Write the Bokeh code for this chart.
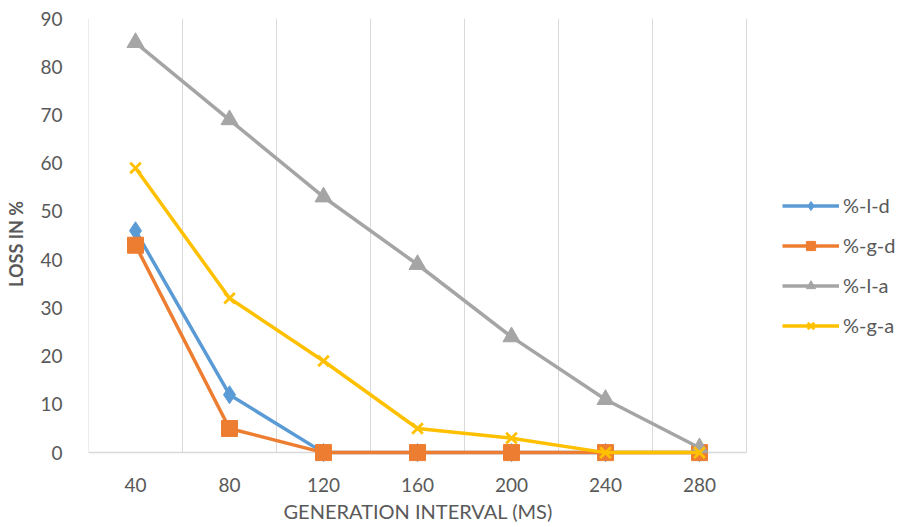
from bokeh.plotting import figure
from bokeh.models import FixedTicker, Legend, Range1d, Title
from bokeh.embed import file_html
from bokeh.resources import INLINE

intervals = [40, 80, 120, 160, 200, 240, 280]
l_d = [46, 12, 0, 0, 0, 0, 0]
g_d = [43, 5, 0, 0, 0, 0, 0]
l_a = [85, 69, 53, 39, 24, 11, 1]
g_a = [59, 32, 19, 5, 3, 0, 0]
y_ticks = [0, 10, 20, 30, 40, 50, 60, 70, 80, 90]

FONT = "Lato"
TXT = "#595959"

# frame extends to the right edge so the legend can sit inside it
x_end = 300 + 155 * 280 / 658
p = figure(width=901, height=527, output_backend="svg", toolbar_location=None,
           x_range=Range1d(20, x_end), y_range=Range1d(-3.5, 90),
           min_border_left=88, min_border_right=0, min_border_top=18, min_border_bottom=58)
p.outline_line_color = None

# vertical grid between categories
grid_x = [20, 60, 100, 140, 180, 220, 260, 300]
p.segment(x0=grid_x, y0=[0]*len(grid_x), x1=grid_x, y1=[90]*len(grid_x),
          line_color="#D9D9D9", line_width=1)
p.segment(x0=[20], y0=[0], x1=[300], y1=[0], line_color="#D9D9D9", line_width=1.5)
p.xgrid.visible = False
p.ygrid.visible = False

series = [
    (l_d, "#5B9BD5", "diamond", 18, "%-l-d"),
    (g_d, "#ED7D31", "square", 16, "%-g-d"),
    (l_a, "#A5A5A5", "triangle", 17, "%-l-a"),
    (g_a, "#FFC000", "x", 15, "%-g-a"),
]
items = []
for ys, col, mk, sz, lab in series:
    r1 = p.line(intervals, ys, line_color=col, line_width=3.5)
    if mk == "x":
        r2 = p.scatter(intervals, ys, marker=mk, size=sz, line_color=col, line_width=2.8)
    else:
        r2 = p.scatter(intervals, ys, marker=mk, size=sz, fill_color=col, line_color=col)
    items.append((lab, [r1, r2]))

legend = Legend(items=items, location=(694, 132), orientation="vertical",
                glyph_width=57, glyph_height=23, label_height=23, spacing=16,
                padding=5, margin=0, label_standoff=4,
                label_text_font=FONT, label_text_font_size="20px", label_text_color=TXT,
                border_line_color=None, background_fill_alpha=0)
p.add_layout(legend, "center")

xa = p.xaxis[0]
xa.ticker = FixedTicker(ticks=intervals)
xa.axis_line_color = None
xa.major_tick_line_color = None
xa.minor_tick_line_color = None
xa.major_label_standoff = 2
xa.major_label_text_font = FONT
xa.major_label_text_font_size = "19px"
xa.major_label_text_color = TXT

# x-axis title centred under the data area (not the whole frame)
xt = Title(text="GENERATION INTERVAL (MS)", align="left", offset=195,
           text_font=FONT, text_font_size="20px", text_font_style="normal",
           text_color=TXT, standoff=4)
p.add_layout(xt, "below")

ya = p.yaxis[0]
ya.ticker = FixedTicker(ticks=y_ticks)
ya.axis_line_color = None
ya.major_tick_line_color = None
ya.minor_tick_line_color = None
ya.major_label_standoff = 20
ya.major_label_text_font = FONT
ya.major_label_text_font_size = "19px"
ya.major_label_text_color = TXT
ya.axis_label = "LOSS IN %"
ya.axis_label_text_font = FONT
ya.axis_label_text_font_size = "18px"
ya.axis_label_text_font_style = "bold"
ya.axis_label_text_color = TXT
ya.axis_label_standoff = 10

open("out.html", "w").write(file_html(p, INLINE))
